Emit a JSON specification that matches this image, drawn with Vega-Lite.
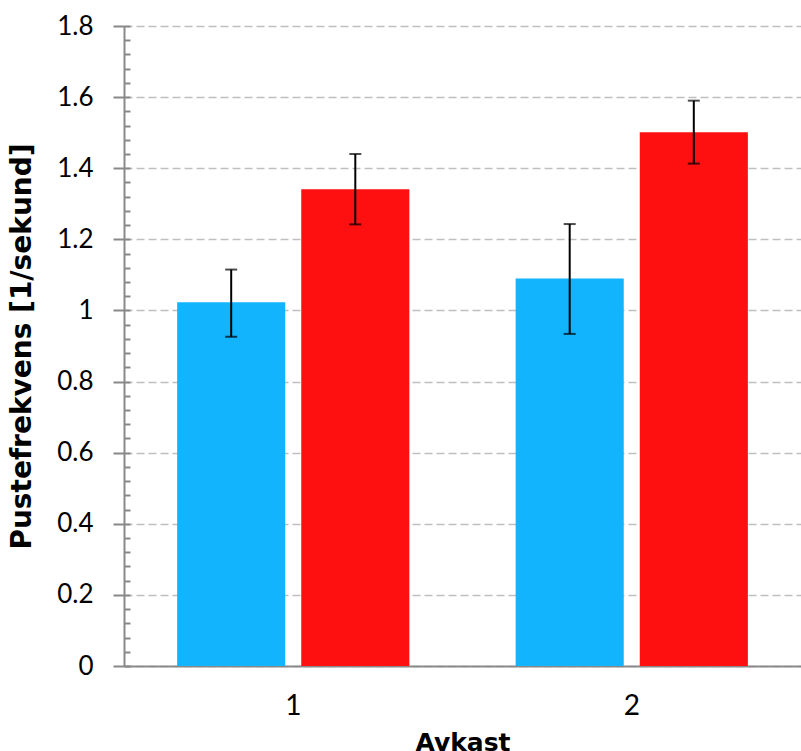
{
  "$schema": "https://vega.github.io/schema/vega-lite/v6.json",
  "autosize": {"type": "none"},
  "padding": {"left": 124, "top": 26, "right": 0, "bottom": 85},
  "width": 677,
  "height": 640,
  "background": "white",
  "config": {"view": {"stroke": null}},
  "data": {
    "values": [
      {"Avkast": "1", "Serie": "Serie 1", "value": 1.023, "lo": 0.926, "hi": 1.115},
      {"Avkast": "1", "Serie": "Serie 2", "value": 1.341, "lo": 1.242, "hi": 1.44},
      {"Avkast": "2", "Serie": "Serie 1", "value": 1.09, "lo": 0.934, "hi": 1.243},
      {"Avkast": "2", "Serie": "Serie 2", "value": 1.501, "lo": 1.413, "hi": 1.59}
    ]
  },
  "encoding": {
    "x": {
      "field": "Avkast", "type": "nominal",
      "scale": {"paddingInner": 0.314, "paddingOuter": 0.157},
      "axis": {
        "title": "Avkast", "titleFont": "DejaVu Sans", "titleFontWeight": "bold", "titleFontSize": 25, "titleColor": "#000",
        "titlePadding": 10,
        "labelFont": "Lato", "labelFontSize": 28, "labelColor": "#000", "labelAngle": 0, "labelPadding": 26,
        "ticks": false, "domainColor": "#898989", "domainWidth": 2, "grid": false
      }
    },
    "xOffset": {"field": "Serie", "type": "nominal", "scale": {"paddingInner": 0.129, "paddingOuter": 0}}
  },
  "layer": [
    {
      "mark": {"type": "bar"},
      "encoding": {
        "y": {
          "field": "value", "type": "quantitative",
          "scale": {"domain": [0, 1.8], "nice": false, "zero": true},
          "axis": {
            "orient": "left",
            "title": "Pustefrekvens [1/sekund]", "titleFont": "DejaVu Sans", "titleFontWeight": "bold", "titleFontSize": 28, "titleColor": "#000",
            "titlePadding": 20,
            "values": [0, 0.2, 0.4, 0.6, 0.8, 1, 1.2, 1.4, 1.6, 1.8],
            "format": "~g",
            "labelFont": "Lato", "labelFontSize": 26, "labelColor": "#000", "labelPadding": 20,
            "tickSize": 11, "tickColor": "#898989", "tickWidth": 2,
            "domainColor": "#898989", "domainWidth": 2,
            "grid": true, "gridColor": "#BFBFBF", "gridDash": [8, 4], "gridWidth": 1.5
          }
        },
        "color": {
          "field": "Serie", "type": "nominal",
          "scale": {"range": ["#13B4FE", "#FE1010"]},
          "legend": null
        }
      }
    },
    {
      "mark": {"type": "rule", "color": "#000", "strokeWidth": 2},
      "encoding": {
        "y": {
          "field": "lo", "type": "quantitative",
          "axis": {
            "orient": "left", "title": null, "labels": false, "domain": false, "grid": false,
            "values": [0, 0.04, 0.08, 0.12, 0.16, 0.2, 0.24, 0.28, 0.32, 0.36, 0.4, 0.44, 0.48, 0.52, 0.56, 0.6, 0.64, 0.68, 0.72, 0.76, 0.8, 0.84, 0.88, 0.92, 0.96, 1, 1.04, 1.08, 1.12, 1.16, 1.2, 1.24, 1.28, 1.32, 1.36, 1.4, 1.44, 1.48, 1.52, 1.56, 1.6, 1.64, 1.68, 1.72, 1.76, 1.8],
            "tickSize": -6, "tickColor": "#898989", "tickWidth": 2
          }
        },
        "y2": {"field": "hi"}
      }
    },
    {
      "mark": {"type": "tick", "color": "#000", "size": 12, "thickness": 2, "orient": "horizontal"},
      "encoding": {"y": {"field": "lo", "type": "quantitative", "axis": null}}
    },
    {
      "mark": {"type": "tick", "color": "#000", "size": 12, "thickness": 2, "orient": "horizontal"},
      "encoding": {"y": {"field": "hi", "type": "quantitative", "axis": null}}
    }
  ],
  "resolve": {"axis": {"y": "independent"}}
}
